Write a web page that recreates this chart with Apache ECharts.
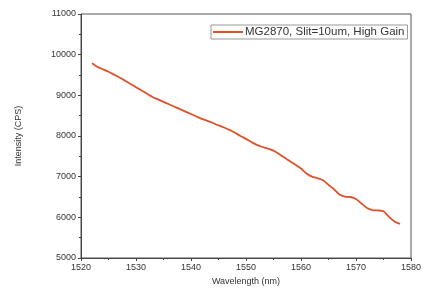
<!DOCTYPE html>
<html>
<head>
<meta charset="utf-8">
<script src="https://cdn.jsdelivr.net/npm/echarts@6/dist/echarts.min.js"></script>
<style>
    html, body { margin: 0; padding: 0; background: #fff; }
    #chart { width: 425px; height: 299px; }
</style>
</head>
<body>
<div id="chart"></div>
<script>
"use strict";

// wavelength (nm), 1 nm steps
var wavelength = [];
for (var w = 1522; w <= 1578; w++) wavelength.push(w);

// intensity (CPS)
var intensity = [
    9790, 9700, 9640, 9580, 9510, 9440, 9360, 9280, 9200, 9120,
    9040, 8960, 8900, 8840, 8780, 8720, 8660, 8600, 8540, 8480,
    8420, 8370, 8320, 8260, 8210, 8150, 8080, 8000, 7930, 7850,
    7780, 7730, 7690, 7640, 7560, 7470, 7380, 7290, 7200, 7080,
    7000, 6960, 6910, 6800, 6690, 6560, 6510, 6500, 6450, 6340,
    6230, 6180, 6170, 6150, 6010, 5900, 5840
];

var seriesName = "MG2870, Slit=10um, High Gain";
var lineColor = "#e0502a";
var textColor = "#333";

var points = wavelength.map(function (x, i) { return [x, intensity[i]]; });

var chart = echarts.init(document.getElementById("chart"));

var option = {
    animation: false,
    textStyle: { fontFamily: "Liberation Sans" },
    grid: {
        left: 81, right: 14, top: 14, bottom: 41,
        show: true, borderColor: "#555", borderWidth: 1
    },
    legend: {
        left: 211, top: 25,
        data: [seriesName],
        icon: "rect",
        itemWidth: 30, itemHeight: 2,
        itemGap: 4,
        padding: [1, 3, 1, 2],
        borderColor: "#999", borderWidth: 1,
        backgroundColor: "#fff",
        textStyle: { fontSize: 11.5, color: textColor, padding: [0, 0, 0, -3] }
    },
    xAxis: {
        type: "value",
        min: 1520, max: 1580, interval: 10,
        name: "Wavelength (nm)",
        nameLocation: "middle",
        nameGap: 19,
        nameTextStyle: { fontSize: 9, color: textColor },
        axisLine: { lineStyle: { color: "#444" } },
        axisTick: { length: 3, lineStyle: { color: "#444" } },
        minorTick: { show: true, splitNumber: 2, length: 2, lineStyle: { color: "#444" } },
        axisLabel: { fontSize: 9, color: textColor, margin: 5, formatter: function (v) { return String(v); } },
        splitLine: { show: false }
    },
    yAxis: {
        type: "value",
        min: 5000, max: 11000, interval: 1000,
        name: "Intensity (CPS)",
        nameLocation: "middle",
        nameGap: 58,
        nameTextStyle: { fontSize: 9, color: textColor },
        axisLine: { show: true, lineStyle: { color: "#444" } },
        axisTick: { show: true, length: 3, lineStyle: { color: "#444" } },
        minorTick: { show: true, splitNumber: 2, length: 2, lineStyle: { color: "#444" } },
        axisLabel: { fontSize: 9, color: textColor, margin: 5, formatter: function (v) { return String(v); } },
        splitLine: { show: false }
    },
    series: [{
        name: seriesName,
        type: "line",
        data: points,
        symbol: "none",
        smooth: 0.2,
        color: lineColor,
        lineStyle: { width: 1.8, color: lineColor }
    }]
};

chart.setOption(option);
</script>
</body>
</html>
